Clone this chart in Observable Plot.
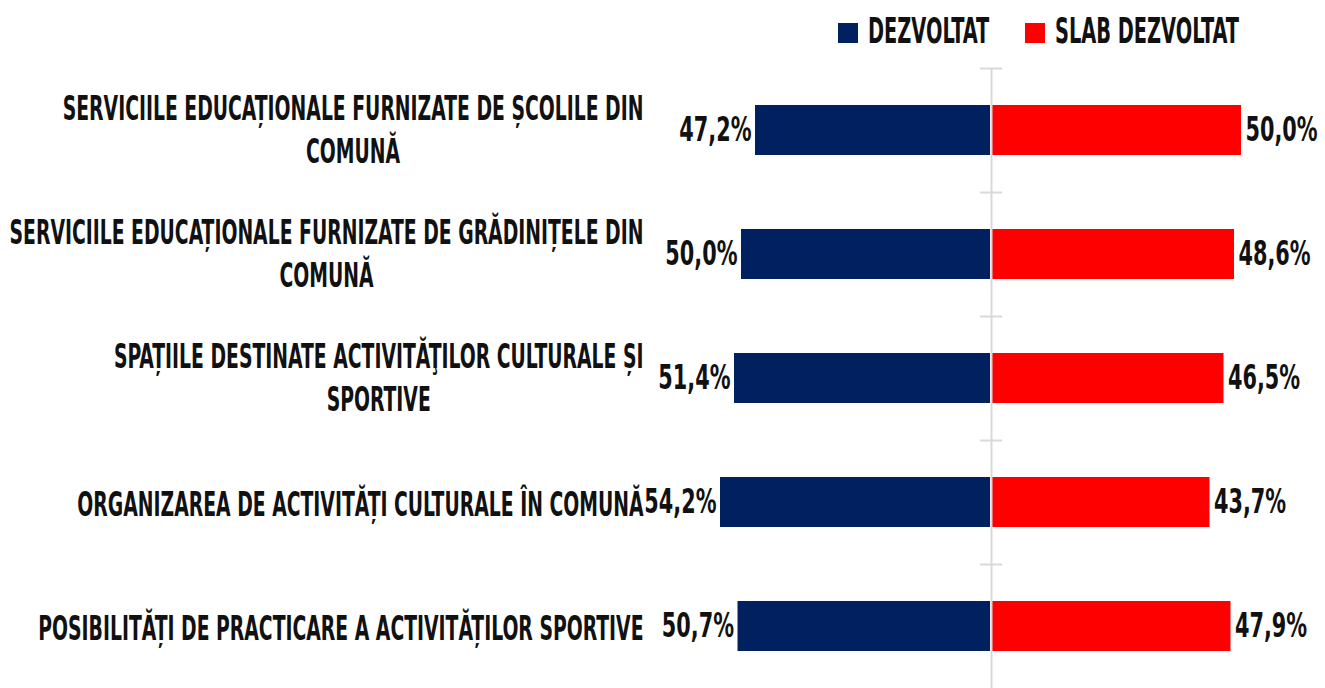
<!DOCTYPE html>
<html>
<head>
<meta charset="utf-8">
<script src="https://cdn.jsdelivr.net/npm/d3@7"></script>
<script src="https://cdn.jsdelivr.net/npm/@observablehq/plot@0.6"></script>
<style>
  html, body { margin: 0; padding: 0; background: #fff; }
  #wrap { position: relative; width: 1325px; height: 688px; overflow: hidden; }
  #chart { position: absolute; left: 0; top: 0; }
  #legend { position: absolute; left: 0; top: 0; width: 1325px; height: 68px; }
  .lg-sq { position: absolute; width: 20px; height: 20px; }
  .lg-tx { position: absolute; font-family: "Liberation Sans Narrow", "DejaVu Sans Condensed", sans-serif; font-weight: bold; font-size: 35px; line-height: 1; color: #111; transform-origin: left center; white-space: nowrap; }
</style>
</head>
<body>
<div id="wrap">
  <div id="chart"></div>
  <div id="legend"></div>
</div>
<script>
const categories = [
  "SERVICIILE EDUCAȚIONALE FURNIZATE DE ȘCOLILE DIN\nCOMUNĂ",
  "SERVICIILE EDUCAȚIONALE FURNIZATE DE GRĂDINIȚELE DIN\nCOMUNĂ",
  "SPAȚIILE DESTINATE ACTIVITĂŢILOR CULTURALE ȘI\nSPORTIVE",
  "ORGANIZAREA DE ACTIVITĂȚI CULTURALE ÎN COMUNĂ",
  "POSIBILITĂȚI DE PRACTICARE A ACTIVITĂȚILOR SPORTIVE"
];
const seriesNames = ["DEZVOLTAT", "SLAB DEZVOLTAT"];
const dezvoltat = [47.2, 50.0, 51.4, 54.2, 50.7];
const slabDezvoltat = [50.0, 48.6, 46.5, 43.7, 47.9];
const colors = ["#002060", "#ff0000"];

const FONT = '"Liberation Sans Narrow", "DejaVu Sans Condensed", sans-serif';
const SX_CAT = 0.615;
const SX_NUM = 0.68;

const rows = categories.map((c, i) => ({cat: c, dez: dezvoltat[i], slab: slabDezvoltat[i]}));
const fmt = v => v.toFixed(1).replace(".", ",") + "%";

const chart = Plot.plot({
  width: 1325,
  height: 688,
  marginTop: 68,
  marginBottom: 0,
  marginLeft: 655,
  marginRight: 0,
  style: {fontFamily: FONT, fontWeight: "bold", color: "#111", background: "transparent"},
  x: {domain: [-67.2, 66.8], axis: null},
  y: {domain: categories, paddingInner: 0.6, paddingOuter: 0.3, axis: null},
  marks: [
    Plot.barX(rows, {y: "cat", x1: 0, x2: d => -d.dez, fill: colors[0], insetRight: 1}),
    Plot.barX(rows, {y: "cat", x1: 0, x2: d => d.slab, fill: colors[1], insetLeft: 1}),
    Plot.ruleX([0], {stroke: "#d9d9d9", strokeWidth: 2}),
    Plot.ruleY(categories, {y: d => d, dy: -62, x1: -2.2, x2: 2.2, stroke: "#d9d9d9", strokeWidth: 2}),
    Plot.axisY({anchor: "left", label: null, tickSize: 0, tickPadding: 12, fontSize: 34, lineHeight: 1.26, fill: "#111"}),
    Plot.text(rows, {y: "cat", x: d => -d.dez, text: d => fmt(d.dez), textAnchor: "end", dx: -4, fontSize: 34, fill: "#111"}),
    Plot.text(rows, {y: "cat", x: d => d.slab, text: d => fmt(d.slab), textAnchor: "start", dx: 4, fontSize: 34, fill: "#111"})
  ]
});
document.getElementById("chart").append(chart);

// condense glyphs horizontally; center wrapped lines within the label block
chart.querySelectorAll("text").forEach(t => {
  const isNum = /%$/.test(t.textContent.trim());
  const sx = isNum ? SX_NUM : SX_CAT;
  const tspans = [...t.querySelectorAll("tspan")];
  let shift = "";
  if (tspans.length > 1) {
    const w = Math.max(...tspans.map(s => s.getComputedTextLength()));
    t.setAttribute("text-anchor", "middle");
    tspans.forEach(s => s.setAttribute("x", -w / 2));
    shift = " translate(0,-3)";
  }
  const tr = t.getAttribute("transform") || "";
  t.setAttribute("transform", `${tr}${shift} scale(${sx},1)`);
});

// legend
const lg = document.getElementById("legend");
const lgPos = [838, 1025];
seriesNames.forEach((name, i) => {
  const sq = document.createElement("div");
  sq.className = "lg-sq";
  sq.style.left = lgPos[i] + "px";
  sq.style.top = "23px";
  sq.style.background = colors[i];
  lg.append(sq);
  const tx = document.createElement("div");
  tx.className = "lg-tx";
  tx.textContent = name;
  tx.style.left = (lgPos[i] + 30) + "px";
  tx.style.top = "14px";
  tx.style.transform = `scaleX(${SX_CAT})`;
  lg.append(tx);
});
</script>
</body>
</html>
